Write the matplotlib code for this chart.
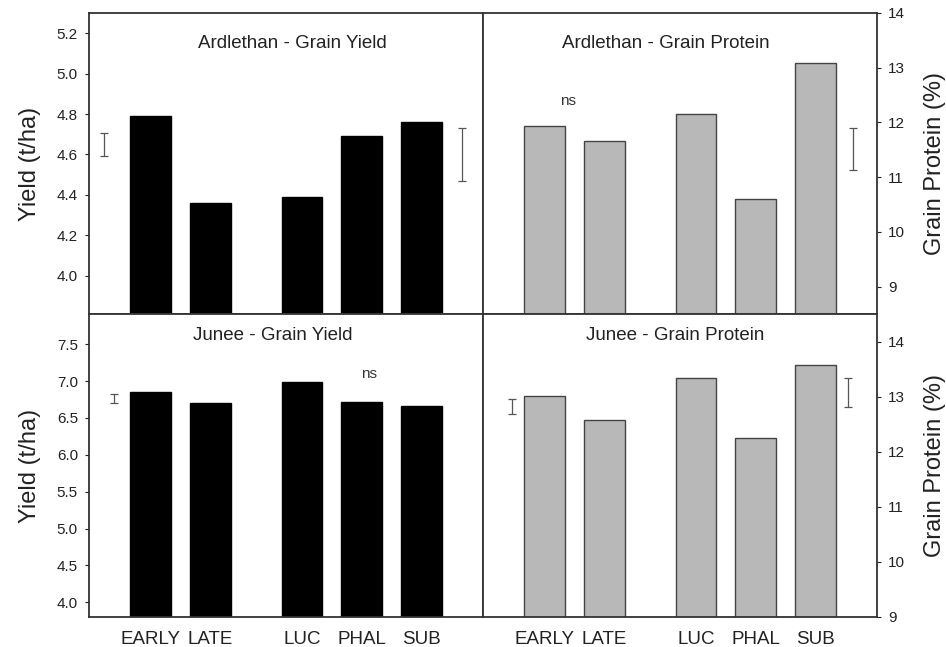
"""
Grain yield and grain protein at Ardlethan and Junee, by treatment
"""
import numpy as np
import matplotlib.pyplot as plt

plt.rcParams['font.family'] = ['Liberation Sans', 'DejaVu Sans']

# treatments (gap between the two groups)
treatments = ["EARLY", "LATE", "LUC", "PHAL", "SUB"]
positions = [0, 1, 2.53, 3.53, 4.53]

# yield (t/ha)
ard_yield = [4.79, 4.36, 4.39, 4.69, 4.76]
jun_yield = [6.85, 6.70, 6.99, 6.71, 6.66]

# grain protein (%)
ard_protein = [11.93, 11.67, 12.16, 10.60, 13.09]
jun_protein = [13.02, 12.58, 13.33, 12.25, 13.58]

# LSD bars: (x position, centre, half length)
ard_yield_lsd = [(-0.77, 4.65, 0.058), (5.2, 4.60, 0.13)]
ard_protein_lsd = [(5.15, 11.52, 0.38)]
jun_yield_lsd = [(-0.6, 6.76, 0.06)]
jun_protein_lsd = [(-0.53, 12.82, 0.14), (5.07, 13.08, 0.26)]


def panel(ax, values, color, edge, title, title_xy, ylim, yticks, lsd):
    ax.bar(positions, values, width=0.68, color=color, edgecolor=edge, linewidth=1.0)
    for x, c, h in lsd:
        ax.errorbar([x], [c], yerr=[h], fmt='none', ecolor='#555555',
                    elinewidth=0.9, capsize=3, capthick=0.9)
    ax.set_xlim(-1.02, 5.55)
    ax.set_ylim(*ylim)
    ax.set_yticks(yticks)
    ax.text(*title_xy, title, transform=ax.transAxes, ha='center', va='center',
            fontsize=13.5, color='#222222')
    for s in ax.spines.values():
        s.set_color('#333333')
        s.set_linewidth(1.3)
    ax.tick_params(axis='y', direction='out', length=3, width=0.8, labelsize=11,
                   colors='#222222', pad=5)
    ax.tick_params(axis='x', length=0)


def main():
    fig = plt.figure(figsize=(9.46, 6.47), dpi=100)
    W, H = 946, 647

    def rect(x0, y0, x1, y1):
        return [x0 / W, 1 - y1 / H, (x1 - x0) / W, (y1 - y0) / H]

    ax1 = fig.add_axes(rect(89, 13, 483, 314))
    ax2 = fig.add_axes(rect(483, 13, 877, 314))
    ax3 = fig.add_axes(rect(89, 314, 483, 617))
    ax4 = fig.add_axes(rect(483, 314, 877, 617))

    panel(ax1, ard_yield, 'black', 'black', "Ardlethan - Grain Yield", (0.515, 0.90),
          (3.81, 5.30), np.arange(4.0, 5.21, 0.2), ard_yield_lsd)
    panel(ax2, ard_protein, '#b8b8b8', '#444444', "Ardlethan - Grain Protein", (0.465, 0.90),
          (8.5, 14.0), range(9, 15), ard_protein_lsd)
    panel(ax3, jun_yield, 'black', 'black', "Junee - Grain Yield", (0.467, 0.930),
          (3.8, 7.91), np.arange(4.0, 7.51, 0.5), jun_yield_lsd)
    panel(ax4, jun_protein, '#b8b8b8', '#444444', "Junee - Grain Protein", (0.487, 0.930),
          (9.0, 14.5), range(9, 15), jun_protein_lsd)

    # tick formats
    ax1.set_yticklabels([f"{v:.1f}" for v in np.arange(4.0, 5.21, 0.2)])
    ax3.set_yticklabels([f"{v:.1f}" for v in np.arange(4.0, 7.51, 0.5)])

    # protein panels: ticks on the right
    for ax in (ax2, ax4):
        ax.yaxis.tick_right()
        ax.set_ylabel("Grain Protein (%)", fontsize=17, color='#222222',
                      rotation=90, va='center', ha='center')
        ax.yaxis.set_label_coords(1.147, 0.5)

    for ax in (ax1, ax3):
        ax.set_ylabel("Yield (t/ha)", fontsize=17, color='#222222',
                      va='center', ha='center')
        ax.yaxis.set_label_coords(-0.15, 0.5)

    # x labels only on the bottom row
    for ax in (ax1, ax2):
        ax.set_xticks([])
    for ax in (ax3, ax4):
        ax.set_xticks(positions)
        ax.set_xticklabels(treatments, fontsize=13.5, color='#222222')
        ax.tick_params(axis='x', pad=10)

    ax2.text(0.4, 12.4, "ns", ha='center', va='center', fontsize=11, color='#333333')
    ax3.text(3.65, 7.1, "ns", ha='center', va='center', fontsize=11, color='#333333')

    fig.savefig("out.png", dpi=100)


if __name__ == "__main__":
    main()
